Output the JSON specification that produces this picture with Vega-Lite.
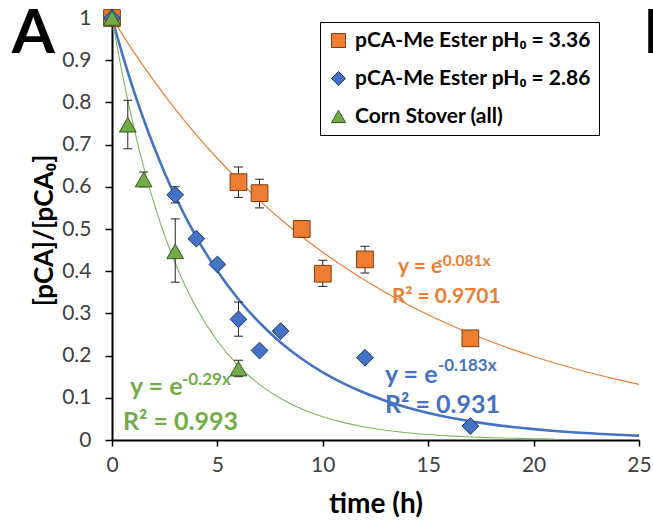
{
  "$schema": "https://vega.github.io/schema/vega-lite/v6.json",
  "width": 527,
  "height": 422,
  "autosize": {"type": "none"},
  "padding": {"left": 112, "top": 18, "right": 14, "bottom": 89},
  "background": "white",
  "config": {"view": {"stroke": null}, "font": "Lato"},
  "datasets": {
    "points": [
      {"series": "pCA-Me Ester pH₀ = 3.36", "x": 0, "y": 1},
      {"series": "pCA-Me Ester pH₀ = 3.36", "x": 6, "y": 0.611},
      {"series": "pCA-Me Ester pH₀ = 3.36", "x": 7, "y": 0.585},
      {"series": "pCA-Me Ester pH₀ = 3.36", "x": 9, "y": 0.5},
      {"series": "pCA-Me Ester pH₀ = 3.36", "x": 10, "y": 0.394},
      {"series": "pCA-Me Ester pH₀ = 3.36", "x": 12, "y": 0.428},
      {"series": "pCA-Me Ester pH₀ = 3.36", "x": 17, "y": 0.241},
      {"series": "pCA-Me Ester pH₀ = 2.86", "x": 0, "y": 1},
      {"series": "pCA-Me Ester pH₀ = 2.86", "x": 3, "y": 0.581},
      {"series": "pCA-Me Ester pH₀ = 2.86", "x": 4, "y": 0.477},
      {"series": "pCA-Me Ester pH₀ = 2.86", "x": 5, "y": 0.416},
      {"series": "pCA-Me Ester pH₀ = 2.86", "x": 6, "y": 0.286},
      {"series": "pCA-Me Ester pH₀ = 2.86", "x": 7, "y": 0.212},
      {"series": "pCA-Me Ester pH₀ = 2.86", "x": 8, "y": 0.258},
      {"series": "pCA-Me Ester pH₀ = 2.86", "x": 12, "y": 0.195},
      {"series": "pCA-Me Ester pH₀ = 2.86", "x": 17, "y": 0.033},
      {"series": "Corn Stover (all)", "x": 0, "y": 1},
      {"series": "Corn Stover (all)", "x": 0.75, "y": 0.747},
      {"series": "Corn Stover (all)", "x": 1.5, "y": 0.617},
      {"series": "Corn Stover (all)", "x": 3, "y": 0.447},
      {"series": "Corn Stover (all)", "x": 6, "y": 0.169}
    ],
    "errors": [
      {"series": "o", "x": 6, "lo": 0.575, "hi": 0.647},
      {"series": "o", "x": 7, "lo": 0.55, "hi": 0.618},
      {"series": "o", "x": 9, "lo": 0.48, "hi": 0.52},
      {"series": "o", "x": 10, "lo": 0.364, "hi": 0.426},
      {"series": "o", "x": 12, "lo": 0.396, "hi": 0.459},
      {"series": "b", "x": 3, "lo": 0.562, "hi": 0.6},
      {"series": "b", "x": 6, "lo": 0.246, "hi": 0.327},
      {"series": "g", "x": 0.75, "lo": 0.69, "hi": 0.805},
      {"series": "g", "x": 1.5, "lo": 0.6, "hi": 0.635},
      {"series": "g", "x": 3, "lo": 0.374, "hi": 0.524},
      {"series": "g", "x": 6, "lo": 0.15, "hi": 0.189}
    ],
    "fits": [
      {"series": "o", "x": 0, "y": 1}, {"series": "o", "x": 1, "y": 0.9222}, {"series": "o", "x": 2, "y": 0.8504}, {"series": "o", "x": 3, "y": 0.7843}, {"series": "o", "x": 4, "y": 0.7232}, {"series": "o", "x": 5, "y": 0.667}, {"series": "o", "x": 6, "y": 0.6151}, {"series": "o", "x": 7, "y": 0.5672}, {"series": "o", "x": 8, "y": 0.5231}, {"series": "o", "x": 9, "y": 0.4824}, {"series": "o", "x": 10, "y": 0.4449}, {"series": "o", "x": 11, "y": 0.4103}, {"series": "o", "x": 12, "y": 0.3783}, {"series": "o", "x": 13, "y": 0.3489}, {"series": "o", "x": 14, "y": 0.3217}, {"series": "o", "x": 15, "y": 0.2967}, {"series": "o", "x": 16, "y": 0.2736}, {"series": "o", "x": 17, "y": 0.2523}, {"series": "o", "x": 18, "y": 0.2327}, {"series": "o", "x": 19, "y": 0.2146}, {"series": "o", "x": 20, "y": 0.1979}, {"series": "o", "x": 21, "y": 0.1825}, {"series": "o", "x": 22, "y": 0.1683}, {"series": "o", "x": 23, "y": 0.1552}, {"series": "o", "x": 24, "y": 0.1431}, {"series": "o", "x": 25, "y": 0.132},
      {"series": "b", "x": 0, "y": 1}, {"series": "b", "x": 0.5, "y": 0.9126}, {"series": "b", "x": 1, "y": 0.8328}, {"series": "b", "x": 1.5, "y": 0.76}, {"series": "b", "x": 2, "y": 0.6935}, {"series": "b", "x": 2.5, "y": 0.6329}, {"series": "b", "x": 3, "y": 0.5775}, {"series": "b", "x": 4, "y": 0.481}, {"series": "b", "x": 5, "y": 0.4005}, {"series": "b", "x": 6, "y": 0.3335}, {"series": "b", "x": 7, "y": 0.2778}, {"series": "b", "x": 8, "y": 0.2313}, {"series": "b", "x": 9, "y": 0.1926}, {"series": "b", "x": 10, "y": 0.1604}, {"series": "b", "x": 11, "y": 0.1336}, {"series": "b", "x": 12, "y": 0.1112}, {"series": "b", "x": 13, "y": 0.0926}, {"series": "b", "x": 14, "y": 0.0771}, {"series": "b", "x": 15, "y": 0.0642}, {"series": "b", "x": 16, "y": 0.0535}, {"series": "b", "x": 17, "y": 0.0446}, {"series": "b", "x": 18, "y": 0.0371}, {"series": "b", "x": 19, "y": 0.0309}, {"series": "b", "x": 20, "y": 0.0257}, {"series": "b", "x": 21, "y": 0.0214}, {"series": "b", "x": 22, "y": 0.0178}, {"series": "b", "x": 23, "y": 0.0149}, {"series": "b", "x": 24, "y": 0.0124}, {"series": "b", "x": 25, "y": 0.0103},
      {"series": "g", "x": 0, "y": 1}, {"series": "g", "x": 0.5, "y": 0.865}, {"series": "g", "x": 1, "y": 0.7483}, {"series": "g", "x": 1.5, "y": 0.6473}, {"series": "g", "x": 2, "y": 0.5599}, {"series": "g", "x": 2.5, "y": 0.4843}, {"series": "g", "x": 3, "y": 0.419}, {"series": "g", "x": 3.5, "y": 0.3624}, {"series": "g", "x": 4, "y": 0.3135}, {"series": "g", "x": 5, "y": 0.2346}, {"series": "g", "x": 6, "y": 0.1755}, {"series": "g", "x": 7, "y": 0.1313}, {"series": "g", "x": 8, "y": 0.0983}, {"series": "g", "x": 9, "y": 0.0735}, {"series": "g", "x": 10, "y": 0.055}, {"series": "g", "x": 11, "y": 0.0412}, {"series": "g", "x": 12, "y": 0.0308}, {"series": "g", "x": 13, "y": 0.023}, {"series": "g", "x": 14, "y": 0.0172}, {"series": "g", "x": 15, "y": 0.0129}, {"series": "g", "x": 16, "y": 0.0097}, {"series": "g", "x": 17, "y": 0.0072}, {"series": "g", "x": 18, "y": 0.0054}, {"series": "g", "x": 19, "y": 0.004}, {"series": "g", "x": 20, "y": 0.003}, {"series": "g", "x": 21, "y": 0.0023}
    ],
    "notes": [
      {"series": "g", "part": "main", "x": 0.85, "y": 0.107, "text": "y = e"},
      {"series": "g", "part": "exp", "x": 3.32, "y": 0.13, "text": "-0.29x"},
      {"series": "g", "part": "main", "x": 0.52, "y": 0.024, "text": "R² = 0.993"},
      {"series": "b", "part": "main", "x": 12.95, "y": 0.134, "text": "y = e"},
      {"series": "b", "part": "exp", "x": 15.46, "y": 0.164, "text": "-0.183x"},
      {"series": "b", "part": "main", "x": 12.95, "y": 0.063, "text": "R² = 0.931"},
      {"series": "o", "part": "main", "x": 13.57, "y": 0.395, "text": "y = e"},
      {"series": "o", "part": "exp", "x": 15.42, "y": 0.412, "text": "-0.081x"},
      {"series": "o", "part": "main", "x": 13.28, "y": 0.324, "text": "R² = 0.9701"}
    ],
    "panel": [{"x": -4.75, "y": 0.917, "text": "A"}, {"x": 25.2, "y": 0.917, "text": "B"}]
  },
  "encoding": {
    "x": {"field": "x", "type": "quantitative", "scale": {"domain": [0, 25], "nice": false},
      "axis": {"values": [0, 5, 10, 15, 20, 25], "title": "time (h)", "grid": false, "domainColor": "black", "domainWidth": 2, "tickColor": "black", "tickWidth": 1.5, "tickSize": 6, "labelFont": "Lato", "labelFontSize": 21, "labelColor": "#404040", "labelPadding": 8, "labelFlush": false, "titleFont": "Lato", "titleFontSize": 28, "titleFontWeight": "bold", "titleColor": "black", "titleX": 263.5, "titleY": 72, "titleBaseline": "alphabetic", "titleAlign": "center"}},
    "y": {"field": "y", "type": "quantitative", "scale": {"domain": [0, 1], "nice": false},
      "axis": {"values": [0, 0.1, 0.2, 0.3, 0.4, 0.5, 0.6, 0.7, 0.8, 0.9, 1], "format": "~g", "title": "[pCA]/[pCA₀]", "grid": false, "domainColor": "black", "domainWidth": 2, "tickColor": "black", "tickWidth": 1.5, "tickSize": 7, "labelFont": "Lato", "labelFontSize": 21, "labelColor": "#404040", "labelPadding": 14, "titleFont": "Lato", "titleFontSize": 26, "titleFontWeight": "bold", "titleColor": "black", "titleX": -60, "titleY": 212, "titleAngle": 270, "titleBaseline": "alphabetic", "titleAlign": "center"}}
  },
  "layer": [
    {
      "data": {"name": "fits"},
      "transform": [{"filter": "datum.series == 'o'"}],
      "mark": {"type": "line", "color": "#ED7D31", "strokeWidth": 1.2, "interpolate": "monotone"}
    },
    {
      "data": {"name": "fits"},
      "transform": [{"filter": "datum.series == 'b'"}],
      "mark": {"type": "line", "color": "#4472C4", "strokeWidth": 2.6, "interpolate": "monotone"}
    },
    {
      "data": {"name": "fits"},
      "transform": [{"filter": "datum.series == 'g'"}],
      "mark": {"type": "line", "color": "#7DB85A", "strokeWidth": 1.1, "interpolate": "monotone"}
    },
    {
      "data": {"name": "errors"},
      "mark": {"type": "rule", "color": "#222222", "strokeWidth": 1},
      "encoding": {
        "y": {"field": "lo", "type": "quantitative", "scale": {"domain": [0, 1], "nice": false}, "title": "[pCA]/[pCA₀]"},
        "y2": {"field": "hi"}
      }
    },
    {
      "data": {"name": "errors"},
      "mark": {"type": "tick", "orient": "horizontal", "color": "#222222", "size": 9, "thickness": 1, "opacity": 1},
      "encoding": {
        "y": {"field": "lo", "type": "quantitative", "scale": {"domain": [0, 1], "nice": false}, "title": "[pCA]/[pCA₀]"}
      }
    },
    {
      "data": {"name": "errors"},
      "mark": {"type": "tick", "orient": "horizontal", "color": "#222222", "size": 9, "thickness": 1, "opacity": 1},
      "encoding": {
        "y": {"field": "hi", "type": "quantitative", "scale": {"domain": [0, 1], "nice": false}, "title": "[pCA]/[pCA₀]"}
      }
    },
    {
      "data": {"name": "points"},
      "mark": {"type": "point", "filled": true, "size": 280, "opacity": 1, "strokeWidth": 1},
      "encoding": {
        "fill": {"field": "series", "type": "nominal",
          "scale": {"domain": ["pCA-Me Ester pH₀ = 3.36", "pCA-Me Ester pH₀ = 2.86", "Corn Stover (all)"], "range": ["#ED7D31", "#4472C4", "#70AD47"]},
          "legend": {"title": null, "orient": "none", "legendX": 208, "legendY": 4, "padding": 8, "strokeColor": "black", "fillColor": "white", "labelFont": "Lato", "labelFontSize": 21, "labelFontWeight": "bold", "labelColor": "black", "symbolSize": 196, "rowPadding": 16, "labelOffset": 6, "labelLimit": 400, "symbolStrokeWidth": 1, "symbolOpacity": 1}},
        "stroke": {"field": "series", "type": "nominal",
          "scale": {"domain": ["pCA-Me Ester pH₀ = 3.36", "pCA-Me Ester pH₀ = 2.86", "Corn Stover (all)"], "range": ["#843C0C", "#1F3864", "#385723"]},
          "legend": {"title": null, "orient": "none", "legendX": 208, "legendY": 4, "padding": 8, "strokeColor": "black", "fillColor": "white", "labelFont": "Lato", "labelFontSize": 21, "labelFontWeight": "bold", "labelColor": "black", "symbolSize": 196, "rowPadding": 16, "labelOffset": 6, "labelLimit": 400, "symbolStrokeWidth": 1, "symbolOpacity": 1}},
        "shape": {"field": "series", "type": "nominal",
          "scale": {"domain": ["pCA-Me Ester pH₀ = 3.36", "pCA-Me Ester pH₀ = 2.86", "Corn Stover (all)"], "range": ["square", "diamond", "triangle-up"]},
          "legend": {"title": null, "orient": "none", "legendX": 208, "legendY": 4, "padding": 8, "strokeColor": "black", "fillColor": "white", "labelFont": "Lato", "labelFontSize": 21, "labelFontWeight": "bold", "labelColor": "black", "symbolSize": 196, "rowPadding": 16, "labelOffset": 6, "labelLimit": 400, "symbolStrokeWidth": 1, "symbolOpacity": 1}}
      }
    },
    {
      "data": {"name": "notes"},
      "transform": [{"filter": "datum.part == 'main' && datum.series != 'o'"}],
      "mark": {"type": "text", "align": "left", "baseline": "alphabetic", "font": "Lato", "fontWeight": "bold", "fontSize": 25},
      "encoding": {
        "text": {"field": "text"},
        "color": {"field": "series", "type": "nominal", "scale": {"domain": ["o", "b", "g"], "range": ["#ED7D31", "#4472C4", "#70AD47"]}, "legend": null}
      }
    },
    {
      "data": {"name": "notes"},
      "transform": [{"filter": "datum.part == 'main' && datum.series == 'o'"}],
      "mark": {"type": "text", "align": "left", "baseline": "alphabetic", "font": "Lato", "fontWeight": "bold", "fontSize": 21},
      "encoding": {
        "text": {"field": "text"},
        "color": {"field": "series", "type": "nominal", "scale": {"domain": ["o", "b", "g"], "range": ["#ED7D31", "#4472C4", "#70AD47"]}, "legend": null}
      }
    },
    {
      "data": {"name": "notes"},
      "transform": [{"filter": "datum.part == 'exp' && datum.series != 'o'"}],
      "mark": {"type": "text", "align": "left", "baseline": "alphabetic", "font": "Lato", "fontWeight": "bold", "fontSize": 17},
      "encoding": {
        "text": {"field": "text"},
        "color": {"field": "series", "type": "nominal", "scale": {"domain": ["o", "b", "g"], "range": ["#ED7D31", "#4472C4", "#70AD47"]}, "legend": null}
      }
    },
    {
      "data": {"name": "notes"},
      "transform": [{"filter": "datum.part == 'exp' && datum.series == 'o'"}],
      "mark": {"type": "text", "align": "left", "baseline": "alphabetic", "font": "Lato", "fontWeight": "bold", "fontSize": 15.5},
      "encoding": {
        "text": {"field": "text"},
        "color": {"field": "series", "type": "nominal", "scale": {"domain": ["o", "b", "g"], "range": ["#ED7D31", "#4472C4", "#70AD47"]}, "legend": null}
      }
    },
    {
      "data": {"name": "panel"},
      "mark": {"type": "text", "align": "left", "baseline": "alphabetic", "font": "Lato", "fontWeight": "bold", "fontSize": 62, "color": "black"},
      "encoding": {
        "text": {"field": "text"}
      }
    }
  ]
}
